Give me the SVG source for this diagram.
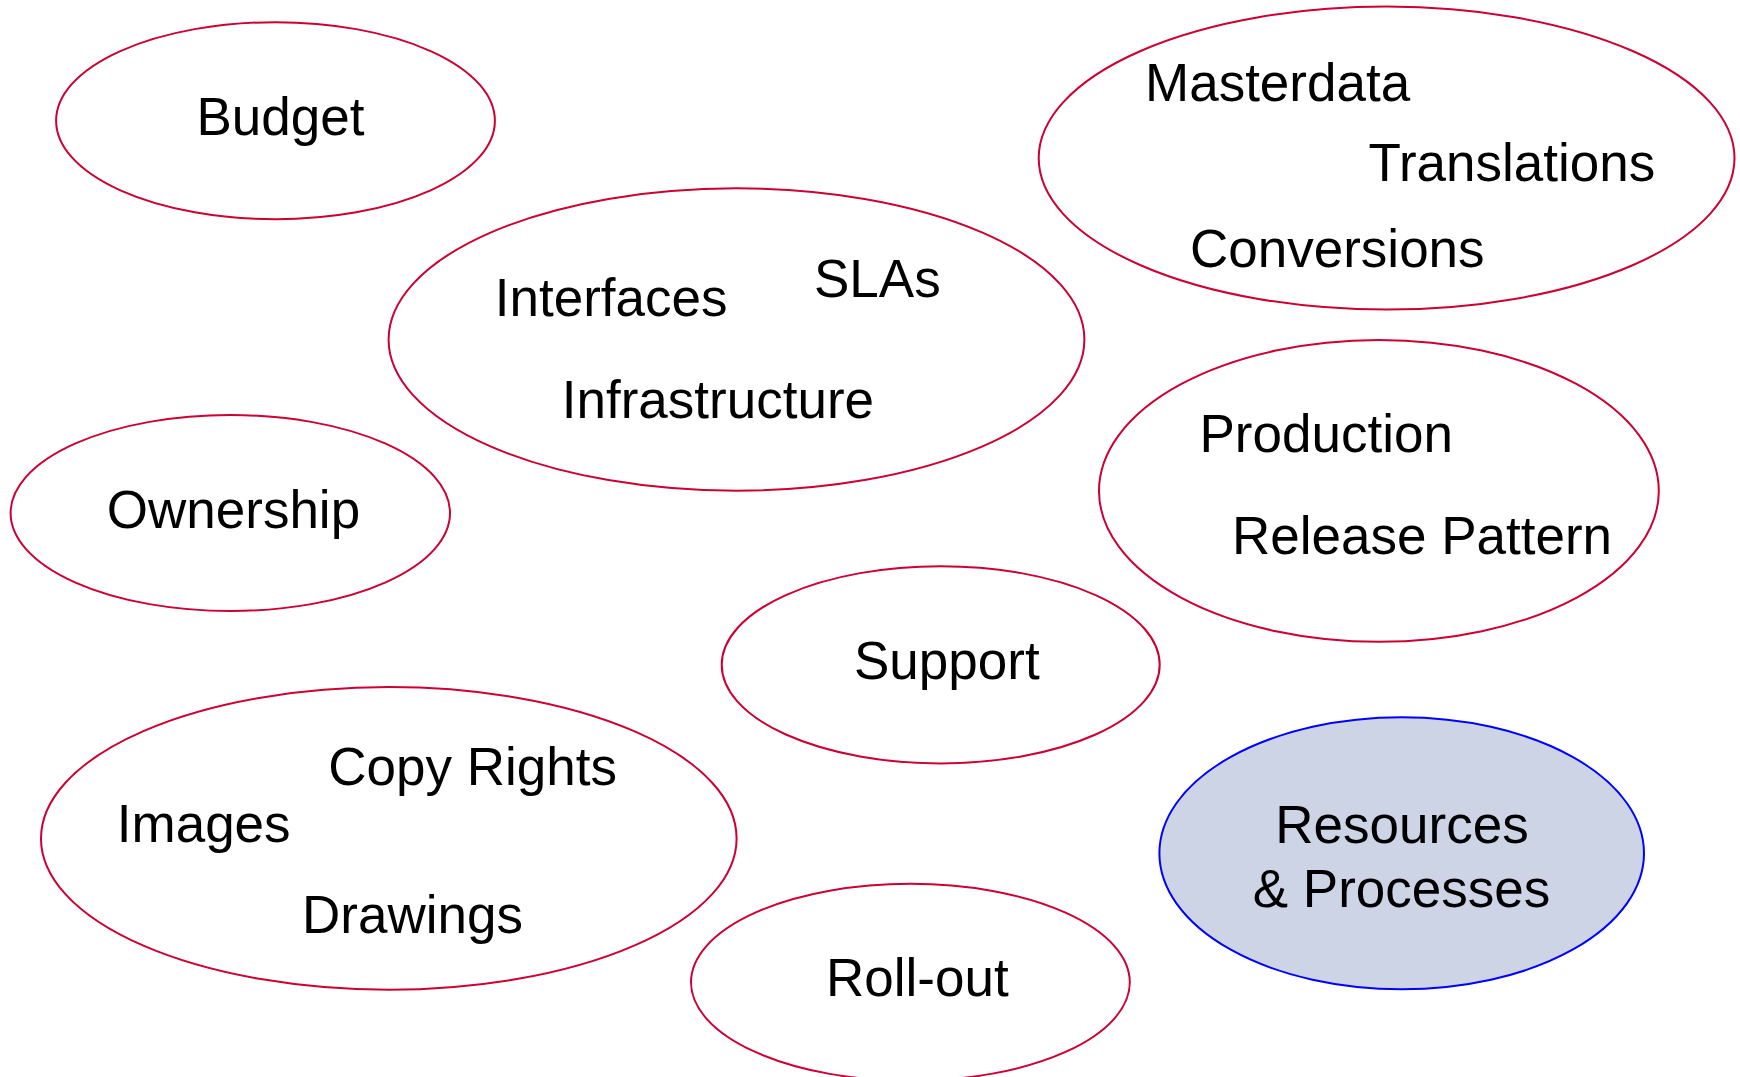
<svg xmlns="http://www.w3.org/2000/svg" width="1740" height="1077" viewBox="0 0 1740 1077">
<style>
.n{fill:#ffffff;stroke:#cc0033;stroke-width:2}
.c{fill:#cdd4e6;stroke:#0000ff;stroke-width:2}
text{font-family:"Liberation Sans",Arial,sans-serif;font-size:53px;fill:#000000}
.m{text-anchor:middle}
</style>
<rect width="1740" height="1077" fill="#ffffff"/>
<g id="connectors"/>
<g id="budget">
<ellipse class="n" cx="275.5" cy="120.7" rx="219.4" ry="98.5"/>
<text x="196.5" y="135">Budget</text>
</g>
<g id="masterdata">
<ellipse class="n" cx="1386.6" cy="158.1" rx="347.9" ry="151.5"/>
<text x="1145" y="101.2">Masterdata</text>
<text x="1368.5" y="180.8">Translations</text>
<text x="1190" y="267">Conversions</text>
</g>
<g id="interfaces">
<ellipse class="n" cx="736.5" cy="339.5" rx="347.9" ry="151.2"/>
<text x="494.8" y="315.5">Interfaces</text>
<text x="814" y="297.2">SLAs</text>
<text x="561.8" y="417.8">Infrastructure</text>
</g>
<g id="ownership">
<ellipse class="n" cx="230.3" cy="513" rx="219.7" ry="98"/>
<text x="106.8" y="527.8">Ownership</text>
</g>
<g id="production">
<ellipse class="n" cx="1378.9" cy="490.9" rx="279.9" ry="150.9"/>
<text x="1199.5" y="451.5">Production</text>
<text x="1232" y="554">Release Pattern</text>
</g>
<g id="support">
<ellipse class="n" cx="940.7" cy="664.8" rx="219" ry="98.6"/>
<text x="854" y="679.2">Support</text>
</g>
<g id="images">
<ellipse class="n" cx="388.8" cy="838.4" rx="347.8" ry="151.3"/>
<text x="328.3" y="784.8">Copy Rights</text>
<text x="116.8" y="842.3">Images</text>
<text x="302" y="933">Drawings</text>
</g>
<g id="rollout">
<ellipse class="n" cx="910.4" cy="982.3" rx="219.4" ry="98.5"/>
<text x="826" y="995.9">Roll-out</text>
</g>
<g id="resources">
<ellipse class="c" cx="1401.7" cy="853.3" rx="242.3" ry="136"/>
<text class="m" x="1402" y="842.8">Resources</text>
<text class="m" x="1401.5" y="906.5">&amp; Processes</text>
</g>
</svg>
